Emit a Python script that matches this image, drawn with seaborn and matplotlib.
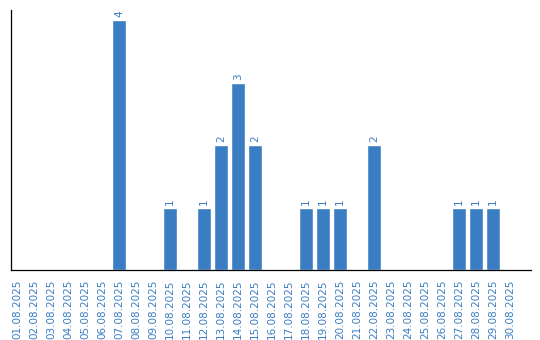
import matplotlib
matplotlib.use("Agg")
import matplotlib.pyplot as plt
import seaborn as sns
import pandas as pd

dates = [f"{d:02d}.08.2025" for d in range(1, 31)]
values = [0, 0, 0, 0, 0, 0, 4, 0, 0, 1,
          0, 1, 2, 3, 2, 0, 0, 1, 1, 1,
          0, 2, 0, 0, 0, 0, 1, 1, 1, 0]

sns.set_style("white")
plt.rcParams['font.family'] = ['DejaVu Sans']

color = "#3b7dc3"
df = pd.DataFrame({"date": dates, "value": values})

fig = plt.figure(figsize=(5.4, 3.4), dpi=100)
ax = fig.add_axes([10.5 / 540, 1 - 270 / 340, (531 - 10.5) / 540, 260 / 340])
sns.barplot(data=df, x="date", y="value", color=color, saturation=1, width=0.82, ax=ax)

ax.set_xlim(-0.38, 30.24)
ax.set_ylim(0, 4.16)
ax.set_xlabel("")
ax.set_ylabel("")
ax.set_yticks([])
ax.tick_params(axis="x", length=0, pad=7, labelsize=7.5, labelcolor=color, rotation=90)
for s in ["top", "right"]:
    ax.spines[s].set_visible(False)
for s in ["left", "bottom"]:
    ax.spines[s].set_color("black")
    ax.spines[s].set_linewidth(0.9)

labels = [str(v) if v > 0 else "" for v in values]
ax.bar_label(ax.containers[0], labels=labels, rotation=90, padding=2, fontsize=7.5, color=color)

fig.savefig("out.png", dpi=100)
